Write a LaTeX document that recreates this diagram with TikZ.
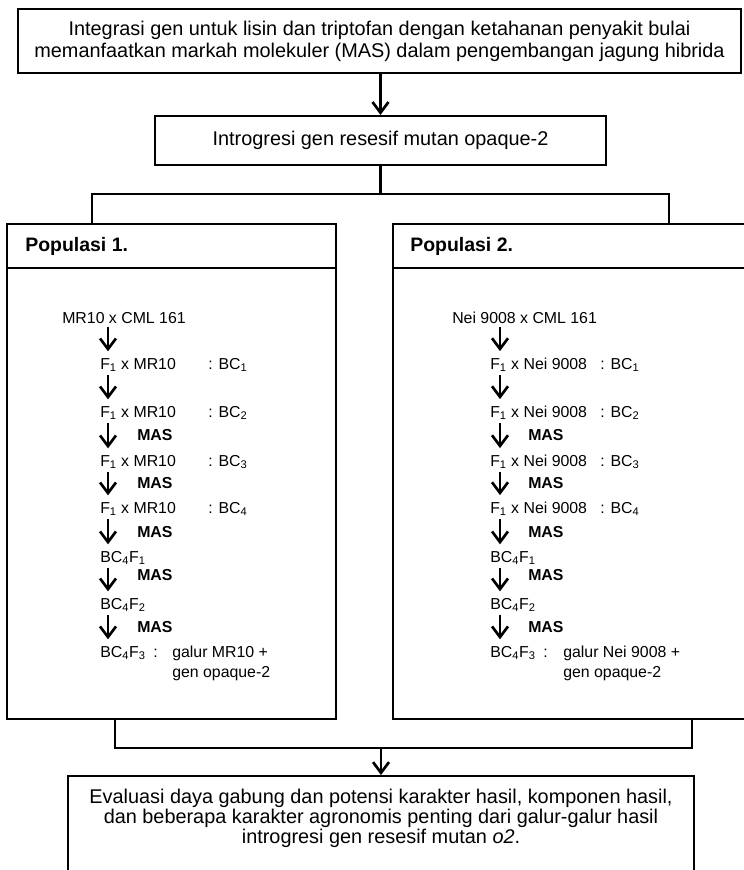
\documentclass[tikz,border=0pt]{standalone}
\usepackage{fontspec}
\setmainfont{Liberation Sans}
\usetikzlibrary{arrows.meta}
\newcommand{\lo}[1]{\textsubscript{#1}}
\tikzset{box/.style={draw,line width=1.6pt,inner sep=0pt},
  link/.style={line width=1.6pt},
  flow/.style={line width=2pt,-{Straight Barb[length=8pt,width=12pt]}},
  gen/.style={flow,shorten <=2pt,shorten >=5pt},
  main/.style={align=center,font=\fontsize{14.9}{16.5}\selectfont},
  row/.style={anchor=west,inner sep=0pt,font=\fontsize{11.9}{15}\selectfont},
  mas/.style={row,font=\fontsize{11.9}{15}\selectfont\bfseries},
  head/.style={anchor=west,inner sep=0pt,font=\fontsize{14.6}{16}\selectfont\bfseries}}

\begin{document}
\begin{tikzpicture}[x=0.75pt,y=-0.75pt]
\useasboundingbox (0,0) rectangle (743,870);

\node[box,main,minimum width=542.25pt,minimum height=48pt] (top) at (379.5,41)
  {Integrasi gen untuk lisin dan triptofan dengan ketahanan penyakit bulai\\
   memanfaatkan markah molekuler (MAS) dalam pengembangan jagung hibrida};
\node[box,main,minimum width=338.25pt,minimum height=36.75pt] (intro) at (380.5,140.5)
  {Introgresi gen resesif mutan opaque-2};
\draw[flow] (top.south -| intro.north) -- (intro.north);

\node[box,minimum width=246.75pt,minimum height=371.25pt] (pop1) at (171.5,471.5) {};
\node[box,minimum width=282.75pt,minimum height=371.25pt] (pop2) at (581.5,471.5) {};
\coordinate (sep) at (0,268);
\draw[link] (pop1.west |- sep) -- (pop1.east |- sep);
\draw[link] (pop2.west |- sep) -- (pop2.east |- sep);
\node[head] (h1) at (25,246) {Populasi 1.};
\node[head] (h2) at (410,246) {Populasi 2.};

\coordinate (split) at (380.5,194);
\coordinate (jl) at (92,194);
\coordinate (jr) at (669,194);
\draw[link] (intro.south) -- (split);
\draw[link] (pop1.north -| jl) -- (jl) -- (jr) -- (pop2.north -| jr);

% populasi 1
\coordinate (ax) at (108,0);
\node[row] (a0) at (62,318) {MR10 x CML 161};
\foreach \i/\y in {1/365,2/413,3/462,4/509}
  {
    \node[row] (a\i) at (100,\y) {F\lo{1} x MR10};
    \node[row] (b\i) at (208,\y) {: BC\lo{\i}};
  }
\node[row] (a5) at (100,558) {BC\lo{4}F\lo{1}};
\node[row] (a6) at (100,605) {BC\lo{4}F\lo{2}};
\node[row] (a7) at (100,653) {BC\lo{4}F\lo{3}};
\node[row] (b7) at (153,653) {:};
\node[row,align=left] (g7) at (172,663) {galur MR10 +\\gen opaque-2};
\foreach \y [count=\k] in {435,483,532,575,627}
  \node[mas] (m\k) at (137,\y) {MAS};
\foreach \i [count=\j from 1] in {0,...,6}
  \draw[gen] (a\i.south -| ax) -- (a\j.north -| ax);

% populasi 2
\coordinate (bx) at (500,0);
\node[row] (c0) at (452,318) {Nei 9008 x CML 161};
\foreach \i/\y in {1/365,2/413,3/462,4/509}
  {
    \node[row] (c\i) at (490,\y) {F\lo{1} x Nei 9008};
    \node[row] (d\i) at (600,\y) {: BC\lo{\i}};
  }
\node[row] (c5) at (490,558) {BC\lo{4}F\lo{1}};
\node[row] (c6) at (490,605) {BC\lo{4}F\lo{2}};
\node[row] (c7) at (490,653) {BC\lo{4}F\lo{3}};
\node[row] (d7) at (543,653) {:};
\node[row,align=left] (e7) at (563,663) {galur Nei 9008 +\\gen opaque-2};
\foreach \y [count=\k] in {435,483,532,575,627}
  \node[mas] (n\k) at (528,\y) {MAS};
\foreach \i [count=\j from 1] in {0,...,6}
  \draw[gen] (c\i.south -| bx) -- (c\j.north -| bx);

\coordinate (ml) at (115,748);
\coordinate (mr) at (692,748);
\coordinate (mc) at (381,748);
\draw[link] (pop1.south -| ml) -- (ml) -- (mr) -- (pop2.south -| mr);
\node[box,anchor=north,minimum width=469.5pt,minimum height=108.75pt] (evalbox) at (381,775) {};
\draw[flow] (mc) -- (evalbox.north -| mc);
\node[main,font=\fontsize{14.9}{15}\selectfont] (eval) at (381,818)
  {Evaluasi daya gabung dan potensi karakter hasil, komponen hasil,\\
   dan beberapa karakter agronomis penting dari galur-galur hasil\\
   introgresi gen resesif mutan \textit{o2}.};
\end{tikzpicture}
\end{document}
